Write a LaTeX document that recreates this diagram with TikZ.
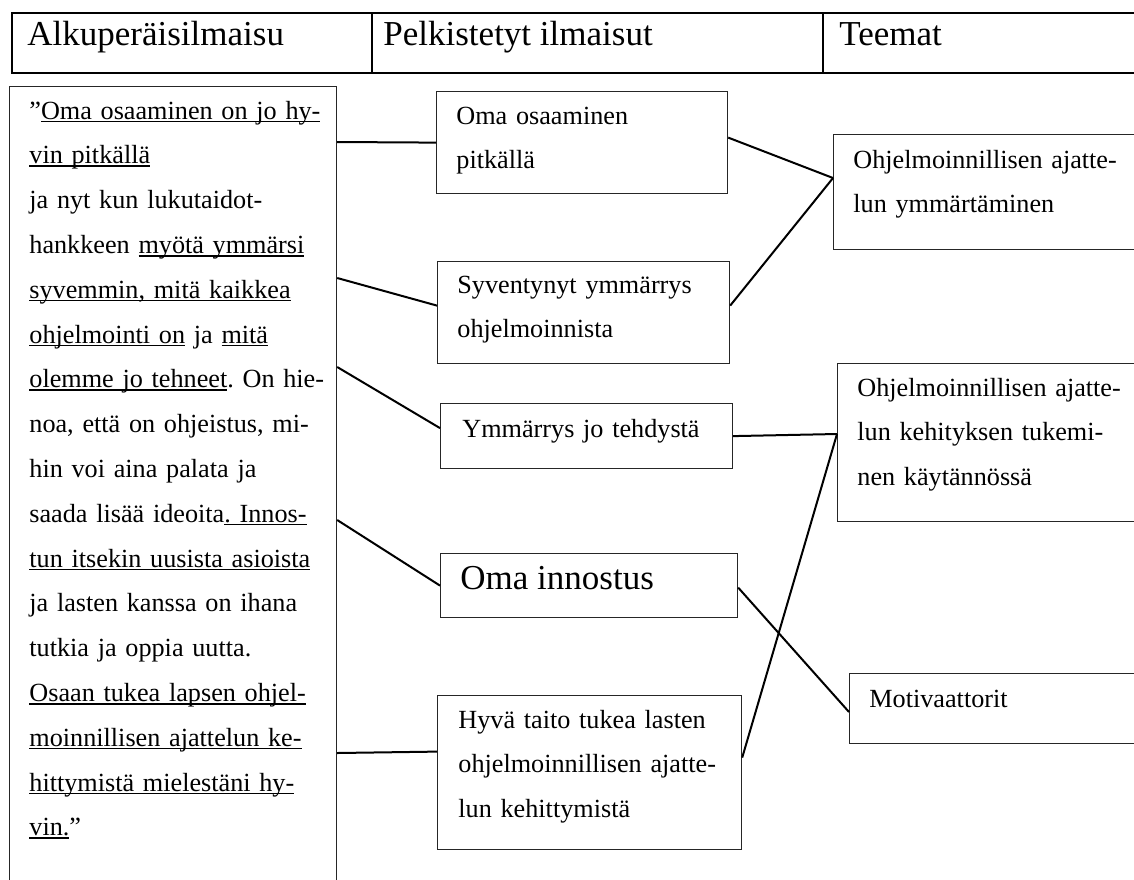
\documentclass[tikz,border=0pt]{standalone}
\usepackage{fontspec}
\setmainfont{Liberation Serif}
\usetikzlibrary{calc}
\frenchspacing
\newcommand{\uln}[1]{\leavevmode\setbox0\hbox{#1}\rlap{\rule[-1.6pt]{\wd0}{0.8pt}}\box0\relax}
\tikzset{
  body/.style={font=\fontsize{13.1}{22.4}\selectfont\frenchspacing, align=left, text width=150pt, inner sep=0pt, anchor=base west},
  big/.style={font=\fontsize{17.5}{20}\selectfont, inner sep=0pt, anchor=base west},
  box/.style={draw=black!85, line width=0.6pt, rectangle, inner sep=0pt, anchor=north west},
  link/.style={line width=1pt, black},
  head/.style={line width=1pt, black}
}
\begin{document}
\begin{tikzpicture}[x=0.5pt, y=-0.5pt]
\useasboundingbox (0,0) rectangle (1134,879);
\clip (0,0) rectangle (1134,879);
% header
\draw[head] (1150,13) -- (12,13) -- (12,73) -- (1150,73);
\draw[head] (372,13) -- (372,73);
\draw[head] (823,13) -- (823,73);
\node[big] (h1) at (27,45) {Alkuperäisilmaisu};
\node[big] (h2) at (383,45) {Pelkistetyt ilmaisut};
\node[big] (h3) at (839,45) {Teemat};
% left box
\node[box, minimum width=163.5pt, minimum height=410pt] (L) at (9,86) {};
\node[body] (Lt) at (29,119) {”\uln{Oma osaaminen on jo hy-}\\
\uln{vin pitkällä}\\
ja nyt kun lukutaidot-\\
hankkeen \uln{myötä ymmärsi}\\
\uln{syvemmin, mitä kaikkea}\\
\uln{ohjelmointi on} ja \uln{mitä}\\
\uln{olemme jo tehneet}. On hie-\\
noa, että on ohjeistus, mi-\\
hin voi aina palata ja\\
saada lisää ideoita\uln{. Innos-}\\
\uln{tun itsekin uusista asioista}\\
ja lasten kanssa on ihana\\
tutkia ja oppia uutta.\\
\uln{Osaan tukea lapsen ohjel-}\\
\uln{moinnillisen ajattelun ke-}\\
\uln{hittymistä mielestäni hy-}\\
\uln{vin.}”};
% middle boxes
\node[box, minimum width=145.5pt, minimum height=51pt] (m1) at (436,91) {};
\node[body] (m1t) at (456,124) {Oma osaaminen\\pitkällä};
\node[box, minimum width=146pt, minimum height=51pt] (m2) at (437,261) {};
\node[body] (m2t) at (457,293) {Syventynyt ymmärrys\\ohjelmoinnista};
\node[box, minimum width=146pt, minimum height=32.5pt] (m3) at (440,403) {};
\node[body] (m3t) at (462,437) {Ymmärrys jo tehdystä};
\node[box, minimum width=148.5pt, minimum height=32pt] (m4) at (440,553) {};
\node[big] (m4t) at (460,589) {Oma innostus};
\node[box, minimum width=152pt, minimum height=77pt] (m5) at (437,695) {};
\node[body] (m5t) at (458,728) {Hyvä taito tukea lasten\\ohjelmoinnillisen ajatte-\\lun kehittymistä};
% right boxes
\node[box, minimum width=160pt, minimum height=57.5pt] (A) at (833,134) {};
\node[body] (At) at (853,168) {Ohjelmoinnillisen ajatte-\\lun ymmärtäminen};
\node[box, minimum width=160pt, minimum height=79pt] (B) at (837,363) {};
\node[body] (Bt) at (857,396) {Ohjelmoinnillisen ajatte-\\lun kehityksen tukemi-\\nen käytännössä};
\node[box, minimum width=160pt, minimum height=35pt] (C) at (849,673) {};
\node[body] (Ct) at (869,707) {Motivaattorit};
% connection points
\coordinate (l1) at ($(L.north east)+(0,-28pt)$);
\coordinate (l2) at ($(L.north east)+(0,-96pt)$);
\coordinate (l3) at ($(L.north east)+(0,-140.5pt)$);
\coordinate (l4) at ($(L.north east)+(0,-217pt)$);
\coordinate (l5) at ($(L.north east)+(0,-333.5pt)$);
\coordinate (m2w) at ($(m2.west)+(0,3.5pt)$);
\coordinate (m3w) at ($(m3.west)+(0,4pt)$);
\coordinate (m5w) at ($(m5.west)+(0,10.5pt)$);
\coordinate (m1e) at ($(m1.east)+(0,2.5pt)$);
\coordinate (m2e) at ($(m2.east)+(0,3.5pt)$);
\coordinate (m5e) at ($(m5.east)+(0,7.5pt)$);
\coordinate (m4e) at ($(m4.east)+(0,-1pt)$);
\coordinate (Aw) at ($(A.north west)+(0,-22pt)$);
\coordinate (Bw) at ($(B.north west)+(0,-35.5pt)$);
\coordinate (Cw) at ($(C.north west)+(0,-19.5pt)$);
% connectors
\draw[link] (l1) -- (m1.west);
\draw[link] (l2) -- (m2w);
\draw[link] (l3) -- (m3w);
\draw[link] (l4) -- (m4.west);
\draw[link] (l5) -- (m5w);
\draw[link] (m1e) -- (Aw);
\draw[link] (m2e) -- (Aw);
\draw[link] (m3.east) -- (Bw);
\draw[link] (m5e) -- (Bw);
\draw[link] (m4e) -- (Cw);
\end{tikzpicture}
\end{document}
